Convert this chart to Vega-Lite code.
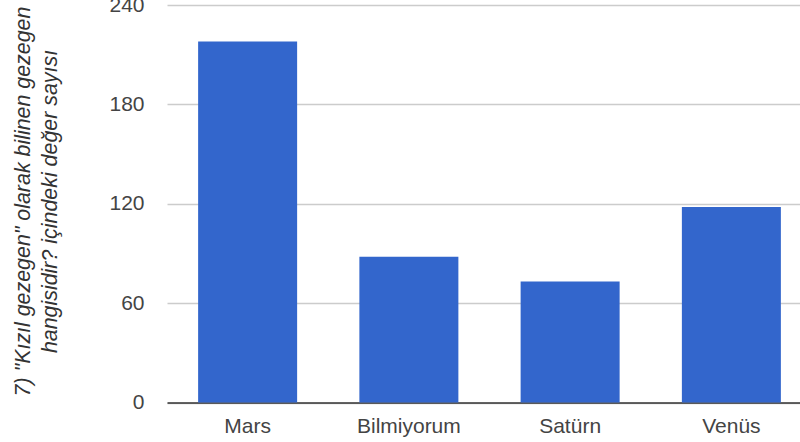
{
  "$schema": "https://vega.github.io/schema/vega-lite/v6.json",
  "autosize": {"type": "none"},
  "padding": {"left": 167, "top": 5, "right": 0, "bottom": 40},
  "width": 645,
  "height": 397.5,
  "background": "white",
  "data": {
    "values": [
      {"cevap": "Mars", "sayi": 218},
      {"cevap": "Bilmiyorum", "sayi": 88},
      {"cevap": "Satürn", "sayi": 73},
      {"cevap": "Venüs", "sayi": 118}
    ]
  },
  "mark": {"type": "bar", "color": "#3366cc"},
  "encoding": {
    "x": {
      "field": "cevap",
      "type": "nominal",
      "sort": null,
      "scale": {"paddingInner": 0.386, "paddingOuter": 0.193},
      "axis": {
        "title": null,
        "labelAngle": 0,
        "labelFont": "Liberation Sans",
        "labelFontSize": 21,
        "labelColor": "#444444",
        "labelPadding": 13,
        "ticks": false,
        "domainColor": "#333333",
        "domainWidth": 1.5
      }
    },
    "y": {
      "field": "sayi",
      "type": "quantitative",
      "scale": {"domain": [0, 240]},
      "axis": {
        "values": [0, 60, 120, 180, 240],
        "title": ["7) \"Kızıl gezegen\" olarak bilinen gezegen", "hangisidir? içindeki değer sayısı"],
        "titleFont": "Liberation Sans",
        "titleFontSize": 21.4,
        "titleFontStyle": "italic",
        "titleFontWeight": "normal",
        "titleColor": "#333333",
        "titleLineHeight": 27,
        "titleX": -134,
        "titleY": 196,
        "labelFont": "Liberation Sans",
        "labelFontSize": 21,
        "labelColor": "#444444",
        "labelPadding": 23,
        "ticks": false,
        "domain": false,
        "grid": true,
        "gridColor": "#cccccc",
        "gridWidth": 1.5
      }
    }
  },
  "config": {"view": {"stroke": null}}
}
